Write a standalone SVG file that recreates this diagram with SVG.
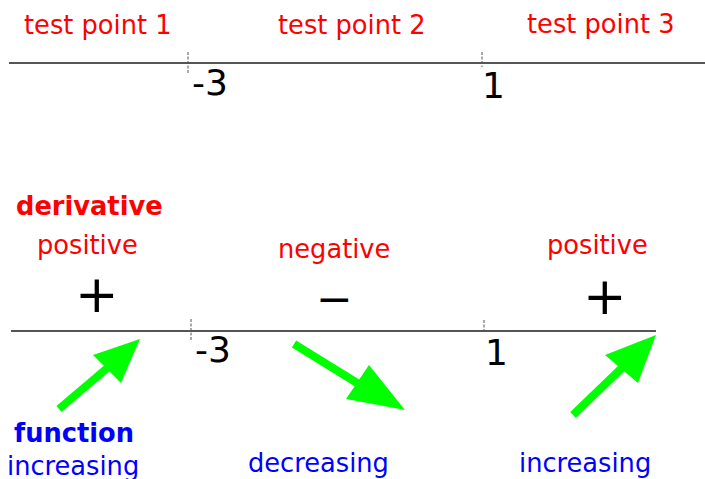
<svg xmlns="http://www.w3.org/2000/svg" width="705" height="479" viewBox="0 0 705 479">
<style>
.lbl{font-family:"DejaVu Sans",sans-serif;font-size:25.7px}
.red{fill:#ff0000}
.blue{fill:#0000ff}
.bold{font-weight:bold}
.num{font-family:"DejaVu Sans",sans-serif;font-size:36px;fill:#000}
.sign{font-family:"DejaVu Sans",sans-serif;font-size:52px;fill:#000}
.axis{stroke:#555;stroke-width:2;fill:none}
.tick{stroke:#555;stroke-width:1;stroke-dasharray:3,1.5;fill:none}
.shaft{stroke:#00ff00;stroke-width:8;fill:none}
.head{fill:#00ff00}
</style>
<g id="top-axis">
<line class="axis" x1="9" y1="63" x2="705" y2="63"/>
<line class="tick" x1="188" y1="52" x2="188" y2="74"/>
<line class="tick" x1="482" y1="52" x2="482" y2="67"/>
<text class="num" x="192" y="95">-3</text>
<text class="num" x="482" y="98">1</text>
</g>
<g id="test-points">
<text class="lbl red" x="24" y="34">test point 1</text>
<text class="lbl red" x="278" y="34">test point 2</text>
<text class="lbl red" x="527" y="33">test point 3</text>
</g>
<g id="derivative">
<text class="lbl red bold" x="16" y="215">derivative</text>
<text class="lbl red" x="37" y="254">positive</text>
<text class="lbl red" x="278" y="258">negative</text>
<text class="lbl red" x="547" y="254">positive</text>
<text class="sign" x="75" y="312">+</text>
<text class="sign" x="316" y="314" style="font-size:44px">−</text>
<text class="sign" x="583" y="314">+</text>
</g>
<g id="bottom-axis">
<line class="axis" x1="11" y1="331" x2="656" y2="331"/>
<line class="tick" x1="191" y1="319" x2="191" y2="341"/>
<line class="tick" x1="484" y1="320" x2="484" y2="333"/>
<text class="num" x="195" y="362">-3</text>
<text class="num" x="485" y="365">1</text>
</g>
<g id="connectors">
<line class="shaft" x1="59" y1="409" x2="112" y2="364"/>
<polygon class="head" points="140,339 93,355 121,383"/>
<line class="shaft" x1="294" y1="344" x2="362" y2="386"/>
<polygon class="head" points="405,410 369,365 346,399"/>
<line class="shaft" x1="573" y1="415" x2="626" y2="364"/>
<polygon class="head" points="656,335 605,355 638,383"/>
</g>
<g id="function">
<text class="lbl blue bold" x="14" y="442">function</text>
<text class="lbl blue" x="7" y="475">increasing</text>
<text class="lbl blue" x="248" y="472">decreasing</text>
<text class="lbl blue" x="519" y="472">increasing</text>
</g>
</svg>
